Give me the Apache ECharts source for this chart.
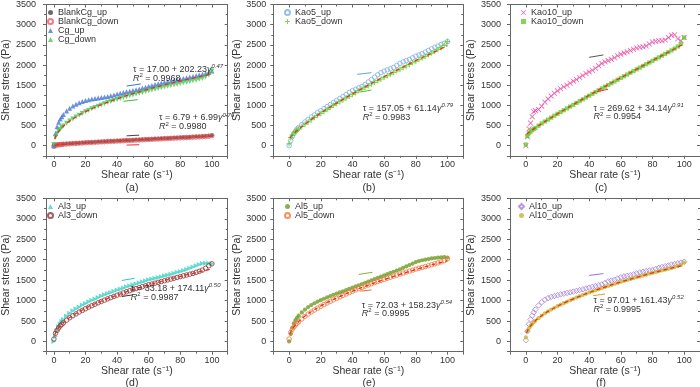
<!DOCTYPE html>
<html><head><meta charset="utf-8">
<script src="https://cdn.jsdelivr.net/npm/echarts@6/dist/echarts.min.js"></script>
<style>html,body{margin:0;padding:0;background:#fff}#c{width:700px;height:387px}</style>
</head><body><div id="c"></div>
<script>
// ---------- DATA ----------
const X = [0,1,2,3,4,5,6,8,10,12,14,16,18,20,22,24,26,28,30,32,34,36,38,40,42,44,46,48,50,52,54,56,58,60,62,64,66,68,70,72,74,76,78,80,82,84,86,88,90,92,94,96,98,100];
const FX = [0.5,1,2,3,5,7,10,15,20,25,30,40,50,60,70,80,90,100];

const blankCgUp = [15,25,30,34,38,42,45, 50,55,60,65,70,75,80, 84,88,93,97,101,106,110,114,118,122, 126,130,134,138,142,146,150,154,158,162, 166,170,175,179,183,187,191,196,200,204, 208,212,217,221,226,230,235,240,248,262];
const blankCgDown = [-15,12,18,23,28,32,36, 42,47,53,58,63,68,73, 77,82,86,90,95,99,103,107,111,115, 119,123,127,131,135,139,143,147,151,155, 159,163,167,171,175,179,183,187,191,195, 199,203,207,211,215,219,223,228,235,250];
const cgUp = [0,300,470,580,660,720,775, 860,930,985,1030,1065,1095,1120, 1140,1155,1170,1182,1195,1208,1222,1240,1260,1282, 1300,1318,1335,1352,1370,1388,1408,1428,1450,1472, 1495,1515,1533,1552,1570,1585,1600,1615,1632,1648, 1665,1682,1700,1718,1735,1752,1770,1790,1815,1850];
const cgDown = [30,210,300,360,410,450,490, 555,612,665,712,758,800,840, 878,914,948,980,1010,1040,1068,1095,1120,1146, 1170,1193,1216,1238,1260,1281,1302,1322,1342,1362, 1381,1400,1419,1437,1455,1473,1490,1508,1525,1542, 1559,1575,1592,1608,1625,1645,1668,1700,1750,1850];
const kao5Up = [0,120,230,300,360,410,450, 520,590,650,710,765,820,870, 920,970,1020,1070,1120,1170,1220,1270,1320,1365, 1400,1435,1470,1520,1580,1640,1700,1760,1810,1850, 1880,1905,1940,1990,2040,2080,2110,2140,2180,2220, 2250,2280,2320,2360,2400,2440,2470,2510,2540,2580];
const kao5Down = [50,200,265,310,350,385,415, 475,535,590,645,700,750,800, 850,900,950,1000,1045,1090,1135,1180,1225,1270, 1315,1360,1402,1445,1488,1530,1570,1612,1652,1695, 1735,1775,1815,1855,1895,1935,1975,2015,2055,2095, 2135,2175,2215,2255,2295,2340,2385,2430,2490,2580];
const kao10Up = [0,220,420,560,720,840,870, 900,980,1080,1160,1230,1300,1360, 1410,1460,1500,1550,1600,1640,1690,1740,1790,1830, 1870,1920,1980,2040,2080,2110,2140,2180,2230,2270, 2300,2330,2360,2390,2420,2440,2450,2470,2520,2570, 2590,2600,2600,2620,2680,2740,2750,2650,2600,2680];
const kao10Down = [30,240,310,350,385,415,440, 495,550,600,648,695,745,790, 835,880,925,970,1015,1060,1105,1150,1195,1240, 1285,1330,1375,1420,1462,1505,1548,1592,1636,1680, 1722,1765,1808,1850,1893,1935,1978,2020,2062,2105, 2148,2190,2232,2275,2318,2362,2408,2460,2530,2680];
const al3Up = [0,120,260,360,430,490,540, 620,690,750,800,845,890,930, 970,1005,1040,1075,1110,1140,1170,1200,1230,1258, 1285,1310,1335,1360,1385,1410,1435,1460,1485,1510, 1530,1548,1565,1585,1605,1625,1645,1668,1690,1712, 1735,1760,1790,1820,1850,1880,1905,1915,1910,1900];
const al3Down = [60,200,270,330,380,420,455, 520,580,630,675,720,760,800, 840,875,910,945,978,1010,1042,1072,1102,1132, 1160,1188,1215,1242,1268,1292,1316,1340,1362,1385, 1405,1425,1445,1465,1485,1505,1525,1545,1565,1585, 1605,1625,1645,1665,1690,1715,1745,1790,1850,1900];
const al5Up = [0,180,330,440,520,580,630, 710,780,840,890,935,975,1010, 1045,1078,1110,1140,1170,1198,1226,1255,1285,1315, 1345,1375,1405,1435,1465,1495,1525,1555,1585,1615, 1645,1675,1705,1735,1765,1800,1835,1870,1905,1940, 1965,1985,2000,2015,2030,2040,2048,2055,2060,2050];
const al5Down = [60,220,300,355,405,445,480, 550,615,670,720,770,815,860, 902,942,980,1018,1055,1090,1125,1160,1195,1228, 1260,1292,1322,1352,1380,1410,1438,1465,1492,1518, 1545,1570,1595,1622,1648,1672,1695,1720,1745,1770, 1790,1810,1830,1852,1875,1898,1920,1945,1975,2020];
const al10Up = [30,250,420,540,630,710,780, 880,960,1020,1060,1090,1110,1130, 1150,1168,1185,1202,1220,1238,1256,1275,1295,1315, 1335,1355,1375,1395,1430,1470,1490,1510,1540,1570, 1590,1605,1620,1640,1665,1690,1705,1720,1735,1750, 1775,1800,1820,1840,1860,1880,1895,1910,1930,1950];
const al10Down = [100,250,325,380,425,468,505, 570,630,685,735,780,822,862, 900,937,972,1006,1040,1072,1104,1135,1165,1195, 1222,1250,1277,1304,1330,1355,1380,1405,1430,1455, 1478,1500,1522,1545,1567,1590,1612,1634,1655,1675, 1695,1715,1735,1755,1775,1795,1818,1845,1880,1930];

const fitBlank = [11,14,19,23,31,38,47,62,75,88,99,122,143,164,184,203,221,238];
const fitCg = [163,219,297,356,448,522,614,739,843,935,1018,1161,1289,1403,1507,1602,1694,1778];
const fitKao5 = [192,218,263,303,375,441,534,677,809,933,1055,1284,1502,1710,1912,2107,2291,2481];
const fitKao10 = [288,304,334,362,417,470,547,671,792,908,1021,1250,1471,1686,1898,2110,2318,2526];
const fitAl3 = [156,207,279,335,422,494,584,707,812,904,987,1134,1264,1382,1490,1590,1685,1774];
const fitAl5 = [181,230,302,358,449,525,621,755,869,972,1064,1232,1379,1515,1640,1758,1870,1974];
const fitAl10 = [210,258,328,383,470,541,631,757,864,957,1043,1196,1330,1456,1568,1674,1774,1866];

// arrows: [x1, y1, x2, y2] in data units (tail -> head)
const arrowsA = [[46,1480,55,1530],[53,1140,44,1100],[46,245,54,262],[54,25,46,15]];
const arrowsB = [[43,1770,52,1810],[52,1380,45,1330]];
const arrowsC = [[40,2190,49,2250],[52,1400,45,1340]];
const arrowsD = [[43,1490,51,1545],[50,1140,43,1100]];
const arrowsE = [[44,1640,52.6,1690],[52,1260,45,1230]];
const arrowsF = [[40,1615,49,1660],[50,1160,42.5,1120]];

const panelLabels = ['(a)','(b)','(c)','(d)','(e)','(f)'];
const xTitle = 'Shear rate (s\u207B\u00B9)';
const yTitle = 'Shear stress (Pa)';

// ---------- STYLE / LAYOUT ----------
const FONT = '"Liberation Sans", Arial, sans-serif';
const TX = '#333';
const AX = '#666';
const FITC = '#e8302a';
const COLS = [
  {left:45.7, width:182, xmin:-5, lm:10, ng:34, lab:132},
  {left:273.3, width:190, xmin:-10, lm:7, ng:27, lab:369},
  {left:510, width:190, xmin:-10, lm:9, ng:29, lab:601}
];
const ROWS = [{top:4, height:151.8, lab:187.7},{top:198.3, height:153.4, lab:382.7}];

const PLUS = 'path://M4,0H6V4H10V6H6V10H4V6H0V4H4Z';
const CROSS = 'path://M0,1L1,0L5,4L9,0L10,1L6,5L10,9L9,10L5,6L1,10L0,9L4,5Z';

function hollow(c){return {color:'rgba(255,255,255,0)', borderColor:c, borderWidth:1};}
function solid(c){return {color:c};}

const panels = [
  {col:0,row:0, legendLeft:47, legendTop:8,
   series:[
    {name:'BlankCg_up', data:blankCgUp, symbol:'circle', size:4, style:solid('#454545'), arrow:2, ac:'#454545'},
    {name:'BlankCg_down', data:blankCgDown, symbol:'circle', size:4.5, style:hollow('#f05a5a'), arrow:3, ac:'#e83030'},
    {name:'Cg_up', data:cgUp, symbol:'triangle', size:5, style:solid('#4677d6'), arrow:0, ac:'#3f6fd6'},
    {name:'Cg_down', data:cgDown, symbol:'triangle', rot:180, size:5, style:solid('#4cc653'), arrow:1, ac:'#3fb844'}],
   arrows:arrowsA,
   fits:[fitBlank, fitCg],
   eqs:[{x:66.5,y:690,t:'τ = 6.79 + 6.99',e:'0.76',r:'0.9980',y2:465},{x:50,y:1900,t:'τ = 17.00 + 202.23',e:'0.47',r:'0.9968',y2:1670}]},
  {col:1,row:0, legendLeft:284, legendTop:8,
   series:[
    {name:'Kao5_up', data:kao5Up, symbol:'circle', size:4.5, style:hollow('#7faee6'), arrow:0, ac:'#6d9fdc'},
    {name:'Kao5_down', data:kao5Down, symbol:PLUS, size:5.5, style:solid('#5ccf22'), arrow:1, ac:'#55c52a'}],
   arrows:arrowsB,
   fits:[fitKao5],
   eqs:[{x:46.5,y:925,t:'τ = 157.05 + 61.14',e:'0.79',r:'0.9983',y2:700}]},
  {col:2,row:0, legendLeft:521, legendTop:8,
   series:[
    {name:'Kao10_up', data:kao10Up, symbol:CROSS, size:5.5, style:solid('#e8389b'), arrow:0, ac:'#555'},
    {name:'Kao10_down', data:kao10Down, symbol:'rect', size:4.2, style:solid('#66cc2e'), arrow:1, ac:'#e83030'}],
   arrows:arrowsC,
   fits:[fitKao10],
   eqs:[{x:42.7,y:925,t:'τ = 269.62 + 34.14',e:'0.91',r:'0.9954',y2:715}]},
  {col:0,row:1, legendLeft:47, legendTop:202,
   series:[
    {name:'Al3_up', data:al3Up, symbol:'triangle', rot:-90, size:5, style:solid('#3fd3c4'), arrow:0, ac:'#2fc8b8'},
    {name:'Al3_down', data:al3Down, symbol:'circle', size:4.5, style:hollow('#8e3434'), arrow:1, ac:'#333'}],
   arrows:arrowsD,
   fits:[fitAl3],
   eqs:[{x:48.7,y:1290,t:'τ = 33.18 + 174.11',e:'0.50',r:'0.9987',y2:1070}]},
  {col:1,row:1, legendLeft:284, legendTop:202,
   series:[
    {name:'Al5_up', data:al5Up, symbol:'circle', size:4.2, style:solid('#6f9c22'), arrow:0, ac:'#8fb030'},
    {name:'Al5_down', data:al5Down, symbol:'circle', size:4.5, style:hollow('#f2773c'), arrow:1, ac:'#f26a30'}],
   arrows:arrowsE,
   fits:[fitAl5],
   eqs:[{x:45.9,y:885,t:'τ = 72.03 + 158.23',e:'0.54',r:'0.9995',y2:680}]},
  {col:2,row:1, legendLeft:518, legendTop:202,
   series:[
    {name:'Al10_up', data:al10Up, symbol:'diamond', size:5.5, style:hollow('#a67fd9'), arrow:0, ac:'#9a6fd6'},
    {name:'Al10_down', data:al10Down, symbol:'circle', size:4.2, style:solid('#c8b42c'), arrow:1, ac:'#e0a020'}],
   arrows:arrowsF,
   fits:[fitAl10],
   eqs:[{x:42.7,y:1005,t:'τ = 97.01 + 161.43',e:'0.52',r:'0.9995',y2:790}]}
];

// ---------- BUILD ----------
const grid=[], xAxis=[], yAxis=[], series=[], legend=[], graphic=[];
const rich = {
  t:{fontSize:9, color:TX, fontFamily:FONT},
  g:{fontSize:9, color:TX, fontFamily:FONT, fontStyle:'italic'},
  s:{fontSize:6, color:TX, fontFamily:FONT, fontStyle:'italic', padding:[0,0,6,0]},
  s2:{fontSize:6, color:TX, fontFamily:FONT, padding:[0,0,6,0]}
};
const plain = v => String(v);
panels.forEach((p,i)=>{
  const c=COLS[p.col], r=ROWS[p.row];
  grid.push({left:c.left, top:r.top, width:c.width, height:r.height, containLabel:false});
  const common = {gridIndex:i, type:'value', splitLine:{show:false}};
  const xs = Object.assign({}, common, {min:c.xmin, max:110, minInterval:20, maxInterval:20, splitNumber:6});
  const ys = Object.assign({}, common, {min:-250, max:3500, minInterval:500, maxInterval:500, splitNumber:8});
  const line = {show:true, onZero:false, lineStyle:{color:AX, width:1}};
  xAxis.push(Object.assign({}, xs, {position:'bottom', axisLine:line,
    axisTick:{show:true, inside:false, length:3, lineStyle:{color:AX}},
    minorTick:{show:true, splitNumber:2, length:2, lineStyle:{color:AX}},
    axisLabel:{show:true, showMinLabel:false, showMaxLabel:false, margin:4, color:TX, fontSize:9, fontFamily:FONT, formatter:plain},
    name:xTitle, nameLocation:'middle', nameGap:p.row===0?12:13,
    nameTextStyle:{fontSize:10.5, color:TX, fontFamily:FONT}}));
  xAxis.push(Object.assign({}, xs, {position:'top', axisLine:line,
    axisTick:{show:true, inside:true, length:3, lineStyle:{color:AX}},
    minorTick:{show:true, splitNumber:2, length:2, lineStyle:{color:AX}},
    axisLabel:{show:false}}));
  yAxis.push(Object.assign({}, ys, {position:'left', axisLine:line,
    axisTick:{show:true, inside:false, length:3, lineStyle:{color:AX}},
    minorTick:{show:true, splitNumber:2, length:2, lineStyle:{color:AX}},
    axisLabel:{show:true, showMinLabel:false, margin:c.lm, color:TX, fontSize:9, fontFamily:FONT, formatter:plain},
    name:yTitle, nameLocation:'middle', nameGap:c.ng, nameRotate:90,
    nameTextStyle:{fontSize:10.5, color:TX, fontFamily:FONT}}));
  yAxis.push(Object.assign({}, ys, {position:'right', axisLine:line,
    axisTick:{show:true, inside:true, length:3, lineStyle:{color:AX}},
    minorTick:{show:true, splitNumber:2, length:2, lineStyle:{color:AX}},
    axisLabel:{show:false}}));
  const xi=2*i, yi=2*i;
  p.series.forEach((s,k)=>{
    const a = p.arrows[s.arrow];
    series.push({type:'scatter', name:s.name, xAxisIndex:xi, yAxisIndex:yi,
      data:X.map((x,j)=>[x, s.data[j]]), symbol:s.symbol, symbolSize:s.size,
      symbolRotate:s.rot||0, itemStyle:s.style, silent:true, z:2,
      markLine:{silent:true, symbol:['none','arrow'], symbolSize:[0,5], animation:false,
        label:{show:false}, lineStyle:{color:s.ac, width:1, type:'solid'},
        data:[[{coord:[a[0],a[1]]},{coord:[a[2],a[3]]}]]}});
  });
  p.fits.forEach((f,k)=>{
    const e = p.eqs[k];
    series.push({type:'line', xAxisIndex:xi, yAxisIndex:yi, data:FX.map((x,j)=>[x,f[j]]),
      smooth:0.4, showSymbol:false, symbol:'none', silent:true, z:3,
      lineStyle:{color:FITC, width:1.3, type:[4,3]},
      markPoint:{symbol:'circle', symbolSize:0, silent:true, animation:false,
        label:{show:true, position:'right', distance:0, rich:rich},
        data:[
          {coord:[e.x,e.y], label:{formatter:'{t|'+e.t+'}{g|γ}{s|'+e.e+'}'}},
          {coord:[e.x,e.y2], label:{formatter:'{g|R}{s2|2}{t| = '+e.r+'}'}}
        ]}});
  });
  legend.push({data:p.series.map(s=>s.name), orient:'vertical', left:p.legendLeft, top:p.legendTop,
    itemWidth:5, itemHeight:5, itemGap:0, padding:0, selectedMode:false,
    textStyle:{fontSize:9, lineHeight:8, color:TX, fontFamily:FONT}});
  graphic.push({type:'text', x:c.lab, y:r.lab, style:{text:panelLabels[i], align:'center', verticalAlign:'middle',
    fontSize:10.5, fontFamily:FONT, fill:TX}});
});

const chart = echarts.init(document.getElementById('c'), null, {renderer:'canvas'});
chart.setOption({animation:false, backgroundColor:'#fff', grid, xAxis, yAxis, series, legend, graphic});
</script></body></html>
